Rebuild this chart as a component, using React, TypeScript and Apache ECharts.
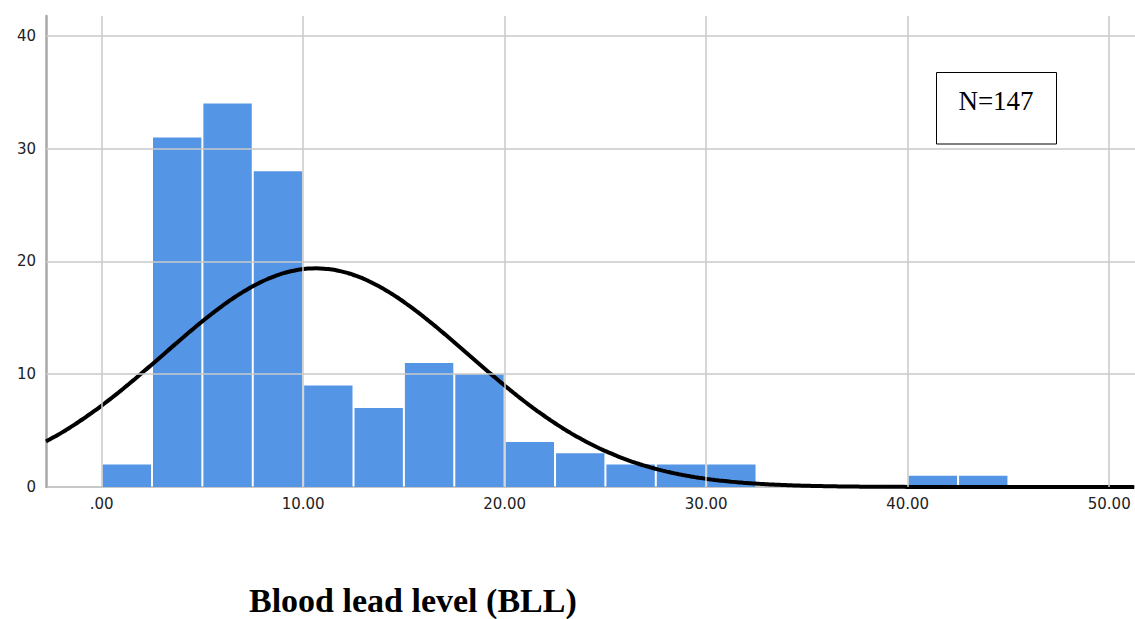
import React, { useEffect, useRef } from "react";
import * as echarts from "echarts";

// Histogram bins (lower edge of each 2.5-wide bin) and their counts
const binStarts = [0, 2.5, 5, 7.5, 10, 12.5, 15, 17.5, 20, 22.5, 25, 27.5, 30, 40, 42.5];
const binCounts = [2, 31, 34, 28, 9, 7, 11, 10, 4, 3, 2, 2, 2, 1, 1];
const BIN_WIDTH = 2.5;

// Fitted normal curve parameters
const SAMPLE_SIZE = 147;
const MEAN = 10.63;
const STD_DEV = 7.56;

// Axis ticks
const xTicks = [0, 10, 20, 30, 40, 50];
const yTicks = [0, 10, 20, 30, 40];

const X_MIN = -2.76;
const X_MAX = 51.28;
const Y_MAX = 41.77;

function normalCurve(): number[][] {
  const pts: number[][] = [];
  const scale = (SAMPLE_SIZE * BIN_WIDTH) / (STD_DEV * Math.sqrt(2 * Math.PI));
  for (let x = X_MIN; x <= X_MAX + 1e-9; x += 0.2) {
    const z = (x - MEAN) / STD_DEV;
    pts.push([x, scale * Math.exp(-0.5 * z * z)]);
  }
  return pts;
}

export default function App() {
  const ref = useRef<HTMLDivElement>(null);

  useEffect(() => {
    if (!ref.current) return;
    const chart = echarts.init(ref.current, null, { renderer: "svg" });
    const gridColor = "#c9c9c9";

    chart.setOption({
      animation: false,
      backgroundColor: "#ffffff",
      title: {
        text: "Blood lead level (BLL)",
        left: 244,
        top: 578,
        textStyle: {
          fontFamily: "Liberation Serif",
          fontWeight: "bold",
          fontSize: 34,
          color: "#000000",
        },
      },
      grid: { left: 46, right: 0, top: 16, bottom: 132 },
      xAxis: {
        type: "value",
        min: X_MIN,
        max: X_MAX,
        axisLine: { show: true, onZero: false, lineStyle: { color: "#b5b5b5", width: 1.5 } },
        axisTick: { show: false },
        splitLine: { show: false },
        axisLabel: {
          customValues: xTicks,
          margin: 9,
          fontFamily: "DejaVu Sans",
          fontSize: 15,
          color: "#222222",
          hideOverlap: false,
          formatter: (v: number) => (v === 0 ? ".00" : v.toFixed(2)),
        },
      },
      yAxis: {
        type: "value",
        min: 0,
        max: Y_MAX,
        interval: 10,
        axisLine: { show: true, onZero: false, lineStyle: { color: "#a8a8a8", width: 2.5 } },
        axisTick: { show: false },
        splitLine: { show: false },
        axisLabel: {
          margin: 10,
          fontFamily: "DejaVu Sans",
          fontSize: 15,
          color: "#222222",
          showMaxLabel: false,
          formatter: (v: number) => (v % 10 === 0 ? String(v) : ""),
        },
      },
      graphic: [
        {
          type: "rect",
          shape: { x: 936.5, y: 72.5, width: 120, height: 71.5 },
          style: { fill: "#ffffff", stroke: "#000000", lineWidth: 1 },
          z: 100,
        },
        {
          type: "text",
          x: 996,
          y: 101,
          style: {
            text: "N=147",
            fontFamily: "Liberation Serif",
            fontSize: 27,
            fill: "#000000",
            align: "center",
            verticalAlign: "middle",
          },
          z: 101,
        },
      ],
      series: [
        {
          // grid lines, drawn beneath the bars
          type: "line",
          data: [],
          z: 1,
          silent: true,
          markLine: {
            silent: true,
            symbol: "none",
            label: { show: false },
            lineStyle: { color: gridColor, width: 1.5, type: "solid" },
            data: [
              ...xTicks.map((v) => ({ xAxis: v })),
              ...yTicks.filter((v) => v > 0).map((v) => ({ yAxis: v })),
            ],
          },
        },
        {
          type: "custom",
          z: 2,
          data: binStarts.map((s, i) => [s, binCounts[i]]),
          encode: { x: 0, y: 1 },
          renderItem: (params: any, api: any) => {
            const start = api.value(0);
            const count = api.value(1);
            const p0 = api.coord([start, count]);
            const p1 = api.coord([start + BIN_WIDTH, 0]);
            return {
              type: "rect",
              shape: {
                x: p0[0] + 1,
                y: p0[1],
                width: p1[0] - p0[0] - 2,
                height: p1[1] - p0[1],
              },
              style: { fill: "#5595e5" },
            };
          },
        },
        {
          type: "line",
          z: 3,
          data: normalCurve(),
          showSymbol: false,
          smooth: true,
          clip: true,
          lineStyle: { color: "#000000", width: 4 },
        },
      ],
    });

    return () => chart.dispose();
  }, []);

  return (
    <div
      ref={ref}
      style={{ position: "absolute", left: 0, top: 0, width: 1135, height: 619 }}
    />
  );
}
